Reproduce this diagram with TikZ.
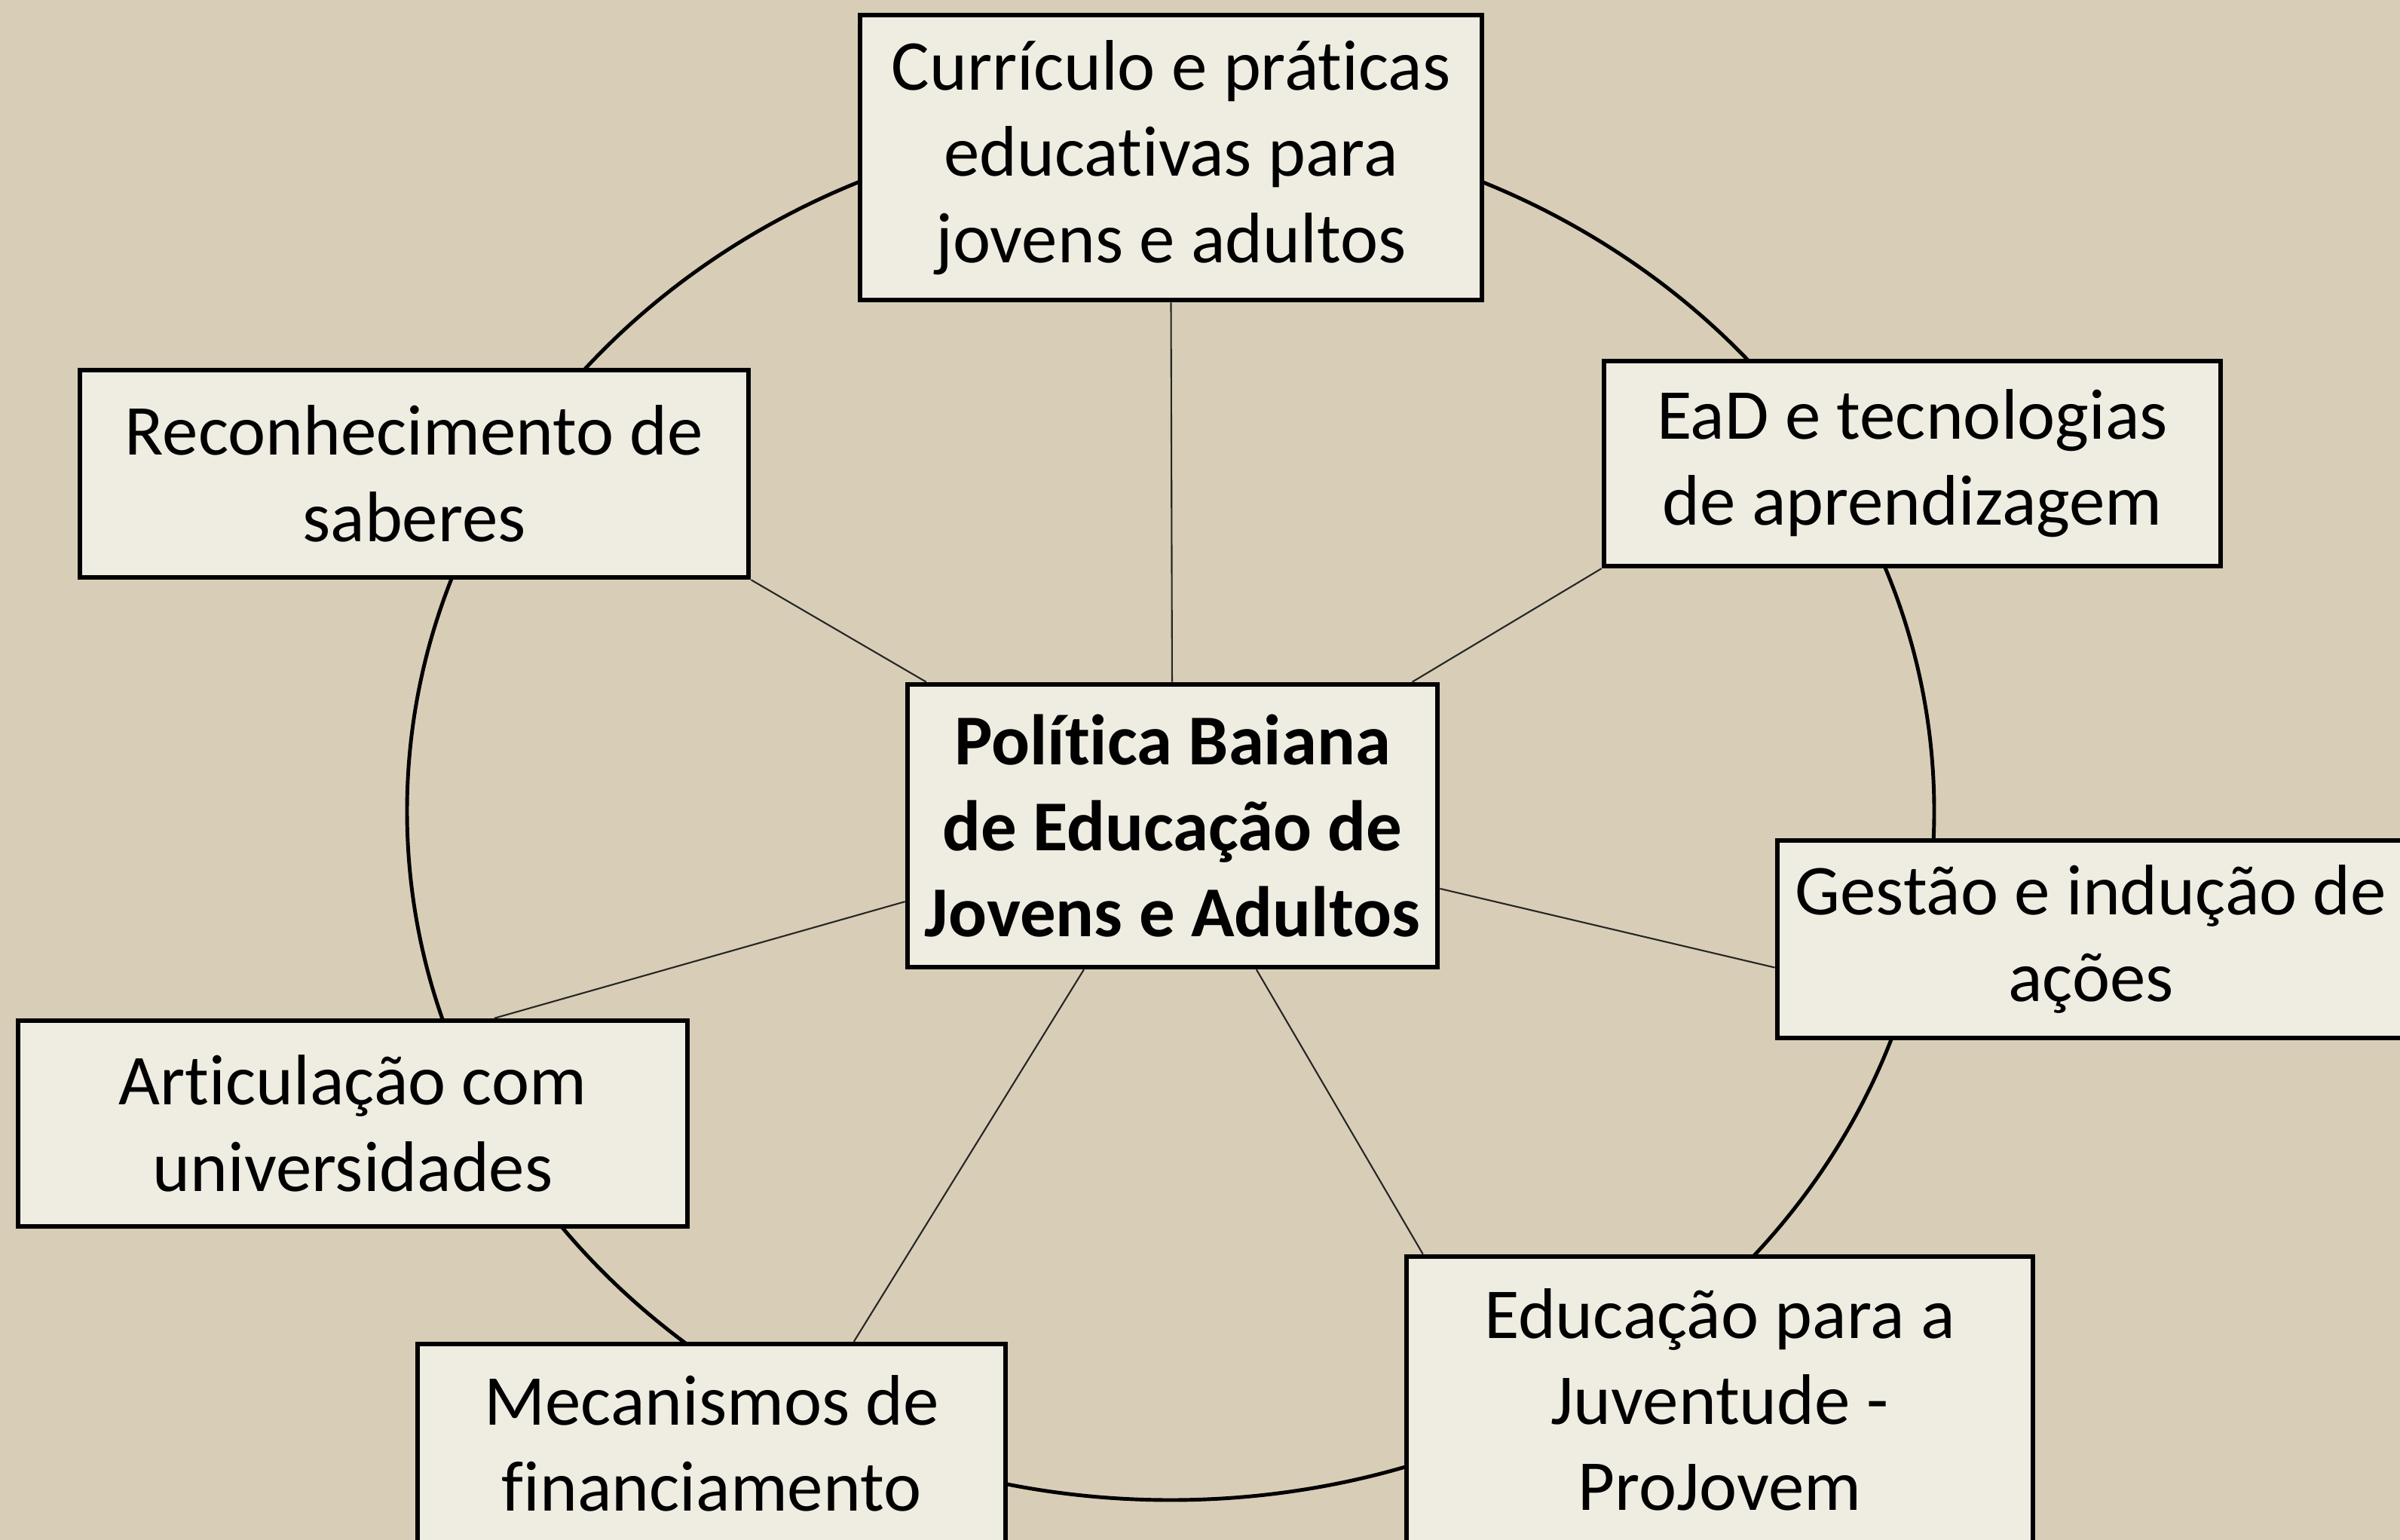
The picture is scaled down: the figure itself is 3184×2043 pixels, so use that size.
\documentclass[tikz,border=0pt]{standalone}
\usepackage{fontspec}
\setmainfont{Carlito}[RawFeature={-liga;-dlig;-calt;-clig}]
\usetikzlibrary{calc}
\definecolor{fundo}{HTML}{D8CEB7}
\definecolor{caixa}{HTML}{EFECE1}

\begin{document}
\begin{tikzpicture}[x=0.01cm, y=-0.01cm,
  every node/.style={font=\fontsize{27}{32.5}\selectfont},
  ramo/.style={draw, line width=1.8pt, fill=caixa, align=center, inner sep=0pt},
  raio/.style={line width=0.6pt, black!85}]
  \useasboundingbox (0,0) rectangle (3184,2043);
  \fill[fundo] (0,0) rectangle (3184,2043);

  % circulo externo
  \draw[line width=1.4pt] (1553,1076) ellipse [x radius=1013, y radius=914];

  \node[ramo, minimum width=8.25cm, minimum height=3.78cm] (cur) at (1553.5,209)
    {Currículo e práticas\\educativas para\\jovens e adultos};
  \node[ramo, minimum width=8.87cm, minimum height=2.75cm] (rec) at (549.5,628.5)
    {Reconhecimento de\\saberes};
  \node[ramo, minimum width=8.18cm, minimum height=2.72cm] (ead) at (2537,615)
    {EaD e tecnologias\\de aprendizagem};
  \node[ramo, minimum width=8.32cm, minimum height=2.62cm] (gest) at (2774,1246)
    {Gestão e indução de\\ações};
  \node[ramo, minimum width=8.88cm, minimum height=2.73cm] (art) at (468,1490.5)
    {Articulação com\\universidades};
  \node[ramo, minimum width=7.80cm, minimum height=2.64cm] (mec) at (944,1915)
    {Mecanismos de\\financiamento};
  \node[ramo, minimum width=8.31cm, minimum height=3.80cm] (edu) at (2281.5,1857)
    {Educação para a\\Juventude -\\ProJovem};

  % nucleo
  \node[ramo, minimum width=7.03cm, minimum height=3.75cm, font=\fontsize{27}{32.5}\selectfont\bfseries] (pol) at (1555.5,1095.5)
    {Política Baiana\\de Educação de\\Jovens e Adultos};

  \draw[raio] (pol) -- (cur.south);
  \draw[raio] (pol) -- (rec.south east);
  \draw[raio] (pol) -- (ead.south west);
  \draw[raio] (pol) -- ($(gest.north west)!0.64!(gest.south west)$);
  \draw[raio] (pol) -- ($(art.north west)!0.71!(art.north east)$);
  \draw[raio] (pol) -- ($(mec.north west)!0.74!(mec.north east)$);
  \draw[raio] (pol) -- ($(edu.north west)!0.03!(edu.north east)$);
\end{tikzpicture}
\end{document}
